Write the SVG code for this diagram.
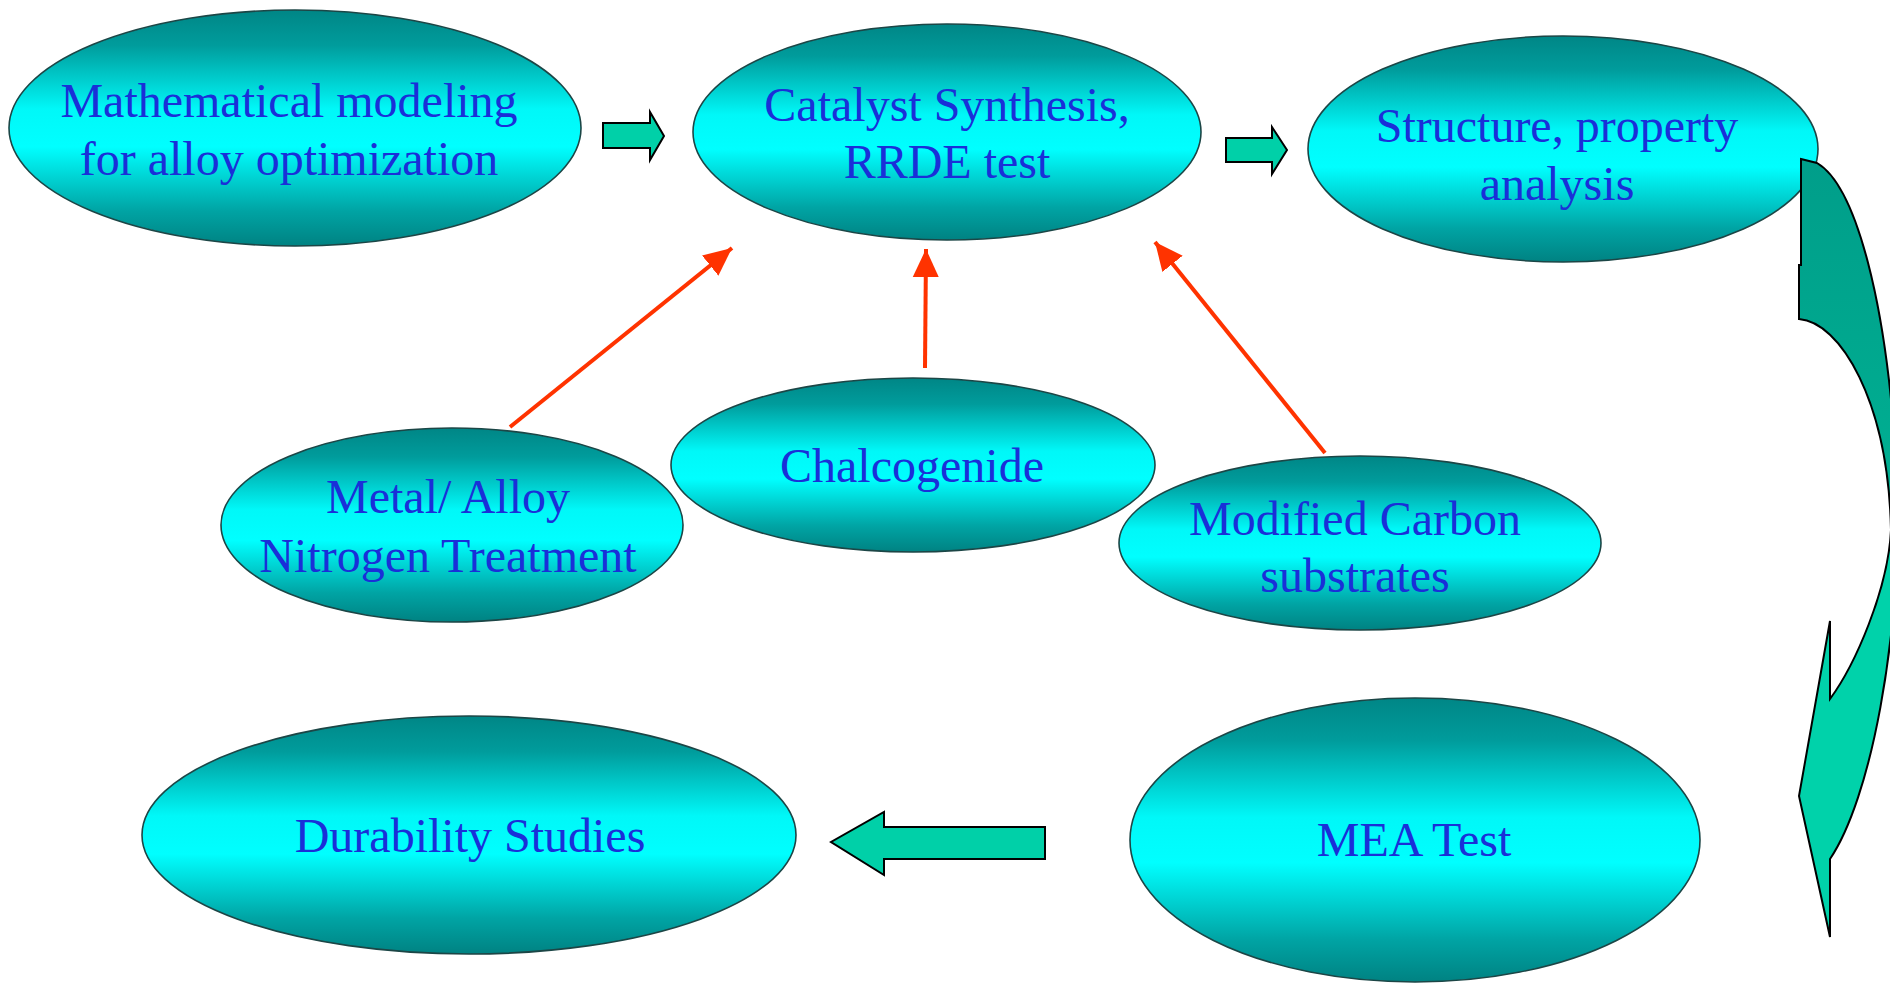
<svg xmlns="http://www.w3.org/2000/svg" width="1890" height="984" viewBox="0 0 1890 984">
<defs>
<linearGradient id="eg" x1="0" y1="0" x2="0" y2="1">
<stop offset="0" stop-color="#008686"/>
<stop offset="0.15" stop-color="#009c9c"/>
<stop offset="0.42" stop-color="#00f8f8"/>
<stop offset="0.58" stop-color="#00ffff"/>
<stop offset="0.85" stop-color="#00a4a4"/>
<stop offset="1" stop-color="#008282"/>
</linearGradient>
<linearGradient id="cg" gradientUnits="userSpaceOnUse" x1="0" y1="160" x2="0" y2="940">
<stop offset="0" stop-color="#009e8a"/>
<stop offset="0.45" stop-color="#00b092"/>
<stop offset="0.46" stop-color="#00d2aa"/>
<stop offset="1" stop-color="#00d2aa"/>
</linearGradient>
<marker id="rh" markerUnits="userSpaceOnUse" markerWidth="30" markerHeight="30" viewBox="0 0 30 30" refX="28" refY="15" orient="auto">
<path d="M0,2 L28,15 L0,28 Z" fill="#ff3300"/>
</marker>
</defs>
<style>
.node ellipse{fill:url(#eg);stroke:#1c4646;stroke-width:1.6}
.node text{font-family:"Liberation Serif","Times New Roman",serif;font-size:48px;fill:#1a2fd8;text-anchor:middle}
.red{stroke:#ff3300;stroke-width:4;fill:none;marker-end:url(#rh)}
.blk{fill:#00d0a8;stroke:#000;stroke-width:2;stroke-linejoin:miter}
</style>
<rect width="1890" height="984" fill="#fff"/>
<g id="n-math" class="node"><ellipse cx="295" cy="128" rx="286" ry="118"/><text x="289" y="117">Mathematical modeling</text><text x="289" y="175">for alloy optimization</text></g>
<g id="n-catalyst" class="node"><ellipse cx="947" cy="132" rx="254" ry="108"/><text x="947" y="121">Catalyst Synthesis,</text><text x="947" y="178">RRDE test</text></g>
<g id="n-structure" class="node"><ellipse cx="1563" cy="149" rx="255" ry="113"/><text x="1557" y="142">Structure, property</text><text x="1557" y="200">analysis</text></g>
<g id="n-metal" class="node"><ellipse cx="452" cy="525" rx="231" ry="97"/><text x="448" y="513">Metal/ Alloy</text><text x="448" y="572">Nitrogen Treatment</text></g>
<g id="n-chalco" class="node"><ellipse cx="913" cy="465" rx="242" ry="87"/><text x="912" y="482">Chalcogenide</text></g>
<g id="n-carbon" class="node"><ellipse cx="1360" cy="543" rx="241" ry="87"/><text x="1355" y="535">Modified Carbon</text><text x="1355" y="592">substrates</text></g>
<g id="n-durability" class="node"><ellipse cx="469" cy="835" rx="327" ry="119"/><text x="470" y="852">Durability Studies</text></g>
<g id="n-mea" class="node"><ellipse cx="1415" cy="840" rx="285" ry="142"/><text x="1414" y="856">MEA Test</text></g>
<g id="connectors">
<path class="blk" d="M603,123 L650,123 L650,112 L664,136 L650,160 L650,148 L603,148 Z"/>
<path class="blk" d="M1226,138 L1272,138 L1272,127 L1287,150 L1272,174 L1272,162 L1226,162 Z"/>
<path class="blk" d="M1045,827 L884,827 L884,812 L831,842 L884,875 L884,859 L1045,859 Z"/>
<line class="red" x1="510" y1="427" x2="732" y2="248"/>
<line class="red" x1="925" y1="368" x2="926" y2="249"/>
<line class="red" x1="1325" y1="453" x2="1155" y2="242"/>
<path fill="url(#cg)" stroke="#000" stroke-width="2" stroke-linejoin="miter" d="M1801,159 L1817,163 C1855,185 1888,300 1897,480 C1902,640 1870,800 1830,859 L1830,937 L1799,796 L1830,621 L1830,699 C1855,665 1888,590 1891,530 C1888,400 1840,322 1799,319 L1799,265 L1801,265 Z"/>
</g>
</svg>
